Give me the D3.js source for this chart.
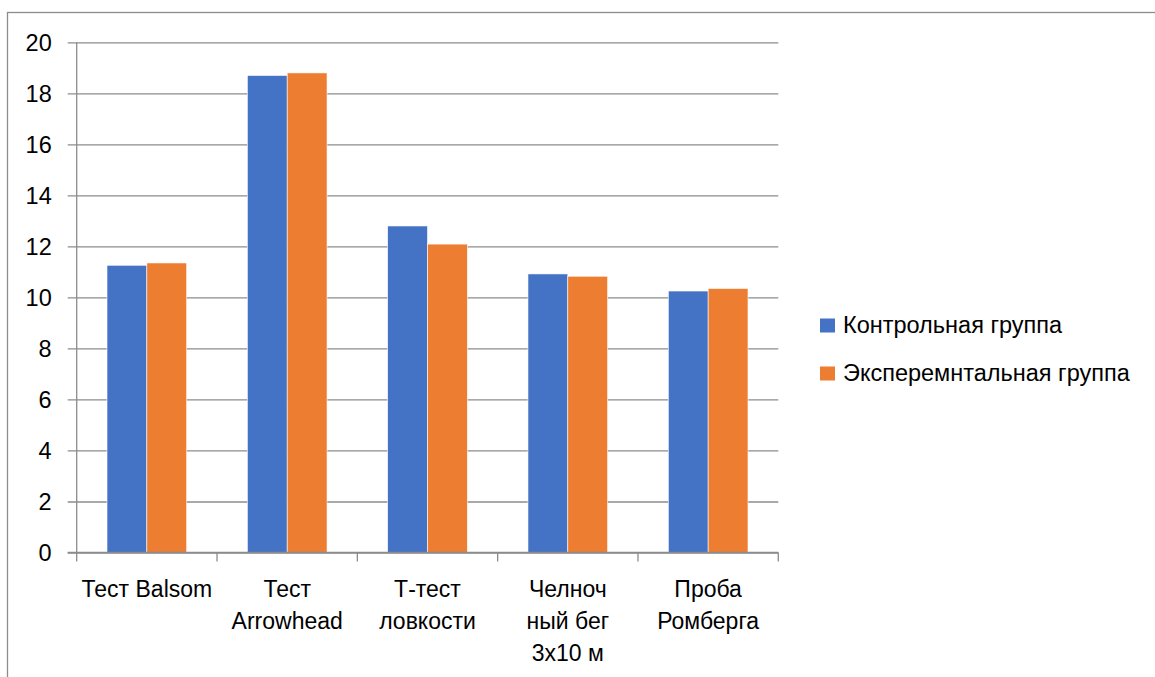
<!DOCTYPE html>
<html>
<head>
<meta charset="utf-8">
<script src="https://cdn.jsdelivr.net/npm/d3@7"></script>
<style>
  body { margin: 0; background: #fff; }
  text { font-family: "Liberation Sans", Arial, sans-serif; fill: #000; }
</style>
</head>
<body>
<svg id="chart" width="1155" height="677"></svg>
<script>
// categories (line-wrapped as in the original)
const categories = ["Balsom", "Arrowhead", "T", "Shuttle", "Romberg"];
const categoryLines = [
  ["Тест Balsom"],
  ["Тест", "Arrowhead"],
  ["Т-тест", "ловкости"],
  ["Челноч", "ный бег", "3x10 м"],
  ["Проба", "Ромберга"]
];
const seriesNames = ["Контрольная группа", "Эксперемнтальная группа"];
const controlValues = [11.26, 18.70, 12.80, 10.92, 10.25];
const experimentValues = [11.35, 18.80, 12.09, 10.83, 10.35];
const yTicks = [0, 2, 4, 6, 8, 10, 12, 14, 16, 18, 20];
const colors = ["#4472C4", "#ED7D31"];

const svg = d3.select("#chart");
const plotLeft = 76.7, plotRight = 778.3, plotTop = 42.3, plotBottom = 552.5;

// outer frame
svg.append("rect")
    .attr("x", 7.5).attr("y", 12.5)
    .attr("width", 1200).attr("height", 700)
    .attr("fill", "none")
    .attr("stroke", "#8c8c8c")
    .attr("stroke-width", 1.3);

const x = d3.scaleBand()
    .domain(categories)
    .range([plotLeft, plotRight])
    .paddingInner(0.432)
    .paddingOuter(0.216);

const xSub = d3.scaleBand()
    .domain([0, 1])
    .range([0, x.bandwidth()]);

const y = d3.scaleLinear()
    .domain([0, 20])
    .range([plotBottom, plotTop]);

// gridlines + y tick labels
const yAxis = svg.append("g")
    .attr("transform", `translate(${plotLeft},0)`)
    .call(d3.axisLeft(y).tickValues(yTicks).tickSize(-(plotRight - plotLeft)).tickFormat(d3.format("d")));
yAxis.select(".domain").remove();
yAxis.selectAll(".tick line")
    .attr("stroke", "#8c8c8c")
    .attr("stroke-width", 1.3)
    .attr("x1", -9);
yAxis.selectAll(".tick text")
    .attr("x", -25)
    .attr("dy", "0.36em")
    .attr("fill", "#000")
    .style("font-size", "23.5px")
    .style("font-family", "Liberation Sans, Arial, sans-serif");

// y axis line
svg.append("line")
    .attr("x1", plotLeft).attr("x2", plotLeft)
    .attr("y1", plotTop).attr("y2", plotBottom)
    .attr("stroke", "#8c8c8c")
    .attr("stroke-width", 1.3);

// bars
const data = categories.map((c, i) => ({ cat: c, values: [controlValues[i], experimentValues[i]] }));
const groups = svg.append("g")
    .selectAll("g")
    .data(data)
    .enter().append("g")
    .attr("transform", d => `translate(${x(d.cat)},0)`);

groups.selectAll("rect")
    .data(d => d.values.map((v, k) => ({ k, v })))
    .enter().append("rect")
    .attr("x", d => xSub(d.k))
    .attr("y", d => y(d.v))
    .attr("width", xSub.bandwidth())
    .attr("height", d => y(0) - y(d.v))
    .attr("fill", d => colors[d.k])
    .attr("stroke", "#fff")
    .attr("stroke-width", 0.6);

// x axis line + ticks between categories
svg.append("line")
    .attr("x1", plotLeft - 9).attr("x2", plotRight)
    .attr("y1", plotBottom).attr("y2", plotBottom)
    .attr("stroke", "#8c8c8c")
    .attr("stroke-width", 1.3);

const step = x.step();
svg.append("g")
    .selectAll("line")
    .data(d3.range(categories.length + 1))
    .enter().append("line")
    .attr("x1", i => plotLeft + i * step).attr("x2", i => plotLeft + i * step)
    .attr("y1", plotBottom).attr("y2", plotBottom + 9)
    .attr("stroke", "#8c8c8c")
    .attr("stroke-width", 1.3);

// category labels
const labels = svg.append("g")
    .selectAll("text")
    .data(categories)
    .enter().append("text")
    .attr("text-anchor", "middle")
    .style("font-size", "23px")
    .attr("transform", d => `translate(${x(d) + x.bandwidth() / 2},0)`);

labels.selectAll("tspan")
    .data((d, i) => categoryLines[i])
    .enter().append("tspan")
    .attr("x", 0)
    .attr("y", (d, j) => 596.5 + j * 32)
    .text(d => d);

// legend
const legend = svg.append("g")
    .selectAll("g")
    .data(seriesNames)
    .enter().append("g")
    .attr("transform", (d, i) => `translate(820,${318.5 + i * 48})`);

legend.append("rect")
    .attr("width", 15)
    .attr("height", 14)
    .attr("fill", (d, i) => colors[i]);

legend.append("text")
    .attr("x", 23)
    .attr("y", 14.5)
    .style("font-size", "23.5px")
    .text(d => d);
</script>
</body>
</html>
